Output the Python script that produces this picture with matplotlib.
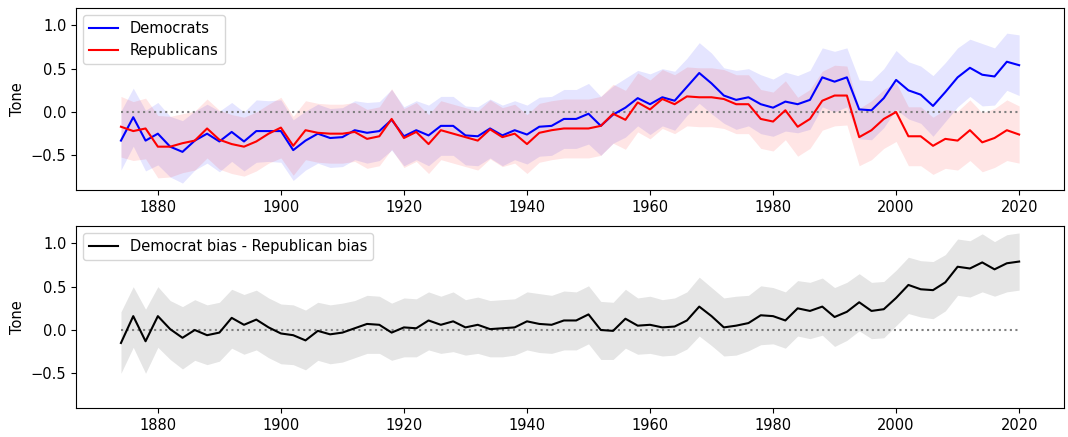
import numpy as np
import matplotlib
matplotlib.use('Agg')
import matplotlib.pyplot as plt

years = np.arange(1874, 2021, 2)

dem = [-0.33, -0.06, -0.33, -0.25, -0.40, -0.46, -0.33, -0.25, -0.34, -0.23,
       -0.34, -0.22, -0.22, -0.22, -0.44, -0.33, -0.25, -0.30, -0.29, -0.21,
       -0.24, -0.22, -0.09, -0.28, -0.21, -0.27, -0.16, -0.16, -0.27, -0.28,
       -0.19, -0.27, -0.21, -0.26, -0.17, -0.16, -0.08, -0.08, -0.02, -0.16,
       -0.03, 0.05, 0.16, 0.09, 0.17, 0.13, 0.29, 0.45, 0.33, 0.19,
       0.14, 0.17, 0.09, 0.05, 0.12, 0.09, 0.14, 0.40, 0.35, 0.40,
       0.03, 0.02, 0.16, 0.37, 0.25, 0.20, 0.07, 0.23, 0.40, 0.51,
       0.43, 0.41, 0.58, 0.54]
dem_ci = [0.34, 0.335, 0.35, 0.36, 0.35, 0.36, 0.34, 0.34, 0.35, 0.34,
          0.34, 0.36, 0.35, 0.36, 0.35, 0.34, 0.34, 0.34, 0.34, 0.34,
          0.35, 0.34, 0.35, 0.34, 0.34, 0.35, 0.34, 0.34, 0.34, 0.34,
          0.34, 0.35, 0.34, 0.34, 0.34, 0.34, 0.34, 0.34, 0.35, 0.34,
          0.33, 0.34, 0.32, 0.35, 0.33, 0.34, 0.33, 0.35, 0.35, 0.32,
          0.34, 0.33, 0.34, 0.33, 0.34, 0.33, 0.34, 0.34, 0.35, 0.34,
          0.34, 0.34, 0.34, 0.34, 0.33, 0.33, 0.35, 0.34, 0.34, 0.33,
          0.36, 0.33, 0.33, 0.35]

rep = [-0.17, -0.22, -0.19, -0.40, -0.40, -0.36, -0.33, -0.19, -0.32, -0.37,
       -0.40, -0.34, -0.25, -0.18, -0.39, -0.21, -0.24, -0.25, -0.25, -0.23,
       -0.31, -0.28, -0.08, -0.30, -0.23, -0.37, -0.21, -0.25, -0.29, -0.33,
       -0.20, -0.29, -0.25, -0.37, -0.24, -0.21, -0.19, -0.19, -0.19, -0.16,
       -0.02, -0.09, 0.11, 0.03, 0.15, 0.09, 0.18, 0.17, 0.17, 0.15,
       0.09, 0.09, -0.08, -0.11, 0.02, -0.17, -0.08, 0.13, 0.19, 0.19,
       -0.29, -0.21, -0.08, 0.00, -0.28, -0.28, -0.39, -0.31, -0.33, -0.21,
       -0.35, -0.30, -0.21, -0.26]
rep_ci = [0.35, 0.34, 0.35, 0.36, 0.35, 0.34, 0.34, 0.34, 0.34, 0.34,
          0.34, 0.34, 0.34, 0.35, 0.34, 0.34, 0.34, 0.34, 0.34, 0.34,
          0.34, 0.34, 0.35, 0.34, 0.34, 0.34, 0.34, 0.34, 0.34, 0.34,
          0.34, 0.34, 0.34, 0.34, 0.34, 0.34, 0.34, 0.34, 0.34, 0.34,
          0.34, 0.34, 0.34, 0.34, 0.34, 0.34, 0.34, 0.34, 0.34, 0.34,
          0.34, 0.34, 0.34, 0.34, 0.34, 0.34, 0.34, 0.34, 0.35, 0.34,
          0.33, 0.34, 0.34, 0.34, 0.34, 0.34, 0.33, 0.34, 0.34, 0.35,
          0.34, 0.34, 0.35, 0.33]

bias = [-0.15, 0.16, -0.13, 0.16, 0.01, -0.09, 0.00, -0.06, -0.03, 0.14,
        0.06, 0.12, 0.03, -0.04, -0.06, -0.12, -0.01, -0.05, -0.03, 0.02,
        0.07, 0.06, -0.03, 0.03, 0.02, 0.11, 0.06, 0.10, 0.03, 0.06,
        0.01, 0.02, 0.03, 0.10, 0.07, 0.06, 0.11, 0.11, 0.18, 0.00,
        -0.01, 0.13, 0.05, 0.06, 0.03, 0.04, 0.11, 0.27, 0.16, 0.03,
        0.05, 0.08, 0.17, 0.16, 0.11, 0.25, 0.22, 0.27, 0.15, 0.21,
        0.32, 0.22, 0.24, 0.37, 0.52, 0.47, 0.46, 0.55, 0.73, 0.71,
        0.78, 0.70, 0.77, 0.79]
bias_hi = [0.21, 0.50, 0.24, 0.50, 0.34, 0.27, 0.35, 0.29, 0.32, 0.47,
           0.41, 0.46, 0.37, 0.30, 0.29, 0.23, 0.32, 0.29, 0.31, 0.34,
           0.40, 0.39, 0.31, 0.37, 0.36, 0.44, 0.39, 0.44, 0.35, 0.38,
           0.34, 0.35, 0.36, 0.44, 0.42, 0.40, 0.45, 0.44, 0.51, 0.33,
           0.32, 0.47, 0.37, 0.39, 0.35, 0.37, 0.44, 0.61, 0.49, 0.37,
           0.39, 0.40, 0.51, 0.49, 0.44, 0.57, 0.55, 0.60, 0.49, 0.55,
           0.65, 0.55, 0.56, 0.69, 0.84, 0.80, 0.79, 0.87, 1.05, 1.03,
           1.11, 1.02, 1.10, 1.12]
bias_lo = [-0.50, -0.20, -0.50, -0.20, -0.34, -0.45, -0.35, -0.40, -0.36, -0.21,
           -0.28, -0.23, -0.32, -0.39, -0.40, -0.46, -0.35, -0.39, -0.37, -0.32,
           -0.27, -0.27, -0.35, -0.31, -0.31, -0.23, -0.27, -0.25, -0.29, -0.27,
           -0.31, -0.31, -0.29, -0.23, -0.26, -0.27, -0.23, -0.23, -0.16, -0.34,
           -0.34, -0.21, -0.28, -0.27, -0.30, -0.29, -0.22, -0.07, -0.18, -0.30,
           -0.29, -0.24, -0.17, -0.16, -0.21, -0.07, -0.10, -0.06, -0.19, -0.12,
           -0.01, -0.10, -0.09, 0.05, 0.19, 0.15, 0.13, 0.22, 0.40, 0.38,
           0.44, 0.39, 0.44, 0.46]

dem = np.array(dem)
rep = np.array(rep)
dem_ci = np.array(dem_ci)
rep_ci = np.array(rep_ci)

fig = plt.figure(figsize=(10.68, 4.37), dpi=100)
ax1 = fig.add_axes([0.0712, 0.5652, 0.9251, 0.4165])
ax2 = fig.add_axes([0.0712, 0.0664, 0.9251, 0.4164])

# parties
ax1.fill_between(years, dem - dem_ci, dem + dem_ci, color='b', alpha=0.1, lw=0)
ax1.fill_between(years, rep - rep_ci, rep + rep_ci, color='r', alpha=0.1, lw=0)
ax1.plot(years, np.zeros(len(years)), ':', color='gray', lw=1.5)
ax1.plot(years, dem, 'b', lw=1.5, label='Democrats')
ax1.plot(years, rep, 'r', lw=1.5, label='Republicans')
ax1.legend(loc='upper left', fontsize=10.5)

# difference
ax2.fill_between(years, bias_lo, bias_hi, color='k', alpha=0.1, lw=0)
ax2.plot(years, np.zeros(len(years)), ':', color='gray', lw=1.5)
ax2.plot(years, bias, 'k', lw=1.5, label='Democrat bias - Republican bias')
ax2.legend(loc='upper left', fontsize=10.5)

for ax in (ax1, ax2):
    ax.set_ylim(-0.9, 1.2)
    ax.set_yticks([-0.5, 0.0, 0.5, 1.0])
    ax.set_xticks(range(1880, 2021, 20))
    ax.tick_params(labelsize=10.5)
    ax.set_ylabel('Tone', fontsize=10.5)

fig.savefig('out.png', dpi=100)
